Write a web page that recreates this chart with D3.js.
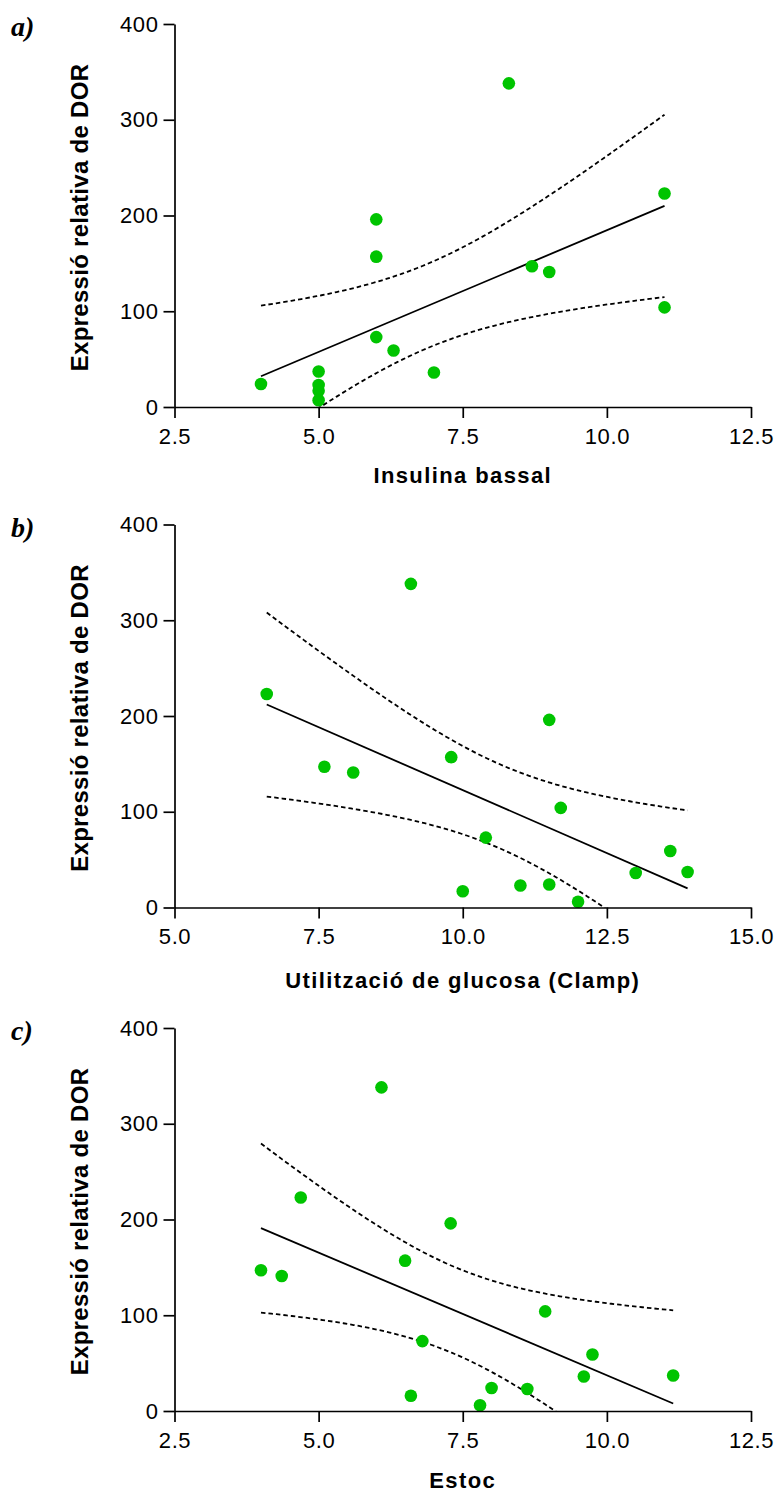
<!DOCTYPE html>
<html>
<head>
<meta charset="utf-8">
<script src="https://cdn.jsdelivr.net/npm/d3@7"></script>
<style>
  body { margin: 0; background: #fff; }
  svg { display: block; }
</style>
</head>
<body>
<svg id="chart" width="777" height="1493"></svg>
<script>
// data (15 samples per panel)
let yTitle = 'Expressió relativa de DOR';
let panelLabels = ['a)', 'b)', 'c)'];
let xTitles = ['Insulina bassal', 'Utilització de glucosa (Clamp)', 'Estoc'];

let yTicks = [0, 100, 200, 300, 400];
let xTicksA = [2.5, 5.0, 7.5, 10.0, 12.5];
let xTicksB = [5.0, 7.5, 10.0, 12.5, 15.0];
let xTicksC = [2.5, 5.0, 7.5, 10.0, 12.5];

let insulinaX = [4.0, 5.0, 5.0, 5.0, 5.0, 6.0, 6.0, 6.0, 6.3, 7.0, 8.3, 8.7, 9.0, 11.0, 11.0];
let insulinaY = [24, 37, 23, 17, 7, 196, 157, 73, 59, 36, 338, 147, 141, 223, 104];

let clampX = [6.6, 7.6, 8.1, 9.1, 9.8, 10.0, 10.4, 11.0, 11.5, 11.5, 11.7, 12.0, 13.0, 13.6, 13.9];
let clampY = [223, 147, 141, 338, 157, 17, 73, 23, 196, 24, 104, 6, 36, 59, 37];

let estocX = [4.0, 4.36, 4.69, 6.09, 6.5, 7.29, 6.6, 6.8, 7.8, 8.0, 8.62, 8.93, 9.6, 9.75, 11.15];
let estocY = [147, 141, 223, 338, 157, 196, 16, 73, 6, 24, 23, 104, 36, 59, 37];

// two-sided 95% t value, df = 13
let tCrit = 2.1604;

let svg = d3.select('#chart');
let left = 174.5;
let plotW = 576.5;
let plotH = 383;
let sansFont = '"Liberation Sans", Arial, sans-serif';

let panels = [
  { label: panelLabels[0], title: xTitles[0], xs: insulinaX, ys: insulinaY, ticks: xTicksA, top: 24, titleY: 482.5 },
  { label: panelLabels[1], title: xTitles[1], xs: clampX, ys: clampY, ticks: xTicksB, top: 524.5, titleY: 988 },
  { label: panelLabels[2], title: xTitles[2], xs: estocX, ys: estocY, ticks: xTicksC, top: 1028, titleY: 1488 }
];

// least squares line + 95% confidence band of the mean
function fit(xs, ys) {
  let n = xs.length;
  let mx = d3.mean(xs), my = d3.mean(ys);
  let sxx = d3.sum(xs, function (x) { return (x - mx) * (x - mx); });
  let sxy = d3.sum(xs.map(function (x, i) { return (x - mx) * (ys[i] - my); }));
  let b = sxy / sxx;
  let a = my - b * mx;
  let sse = d3.sum(xs.map(function (x, i) { let r = ys[i] - a - b * x; return r * r; }));
  let s = Math.sqrt(sse / (n - 2));
  return {
    y: function (x) { return a + b * x; },
    half: function (x) { return tCrit * s * Math.sqrt(1 / n + (x - mx) * (x - mx) / sxx); }
  };
}

panels.forEach(function (p, k) {
  let g = svg.append('g').attr('transform', 'translate(' + left + ',' + p.top + ')');

  let x = d3.scaleLinear().domain(d3.extent(p.ticks)).range([0, plotW]);
  let y = d3.scaleLinear().domain([0, 400]).range([plotH, 0]);

  let clipId = 'clip' + k;
  g.append('clipPath').attr('id', clipId)
    .append('rect')
    .attr('x', 0).attr('y', 0)
    .attr('width', plotW).attr('height', plotH);

  // fit lines
  let f = fit(p.xs, p.ys);
  let ext = d3.extent(p.xs);
  let steps = d3.range(0, 81).map(function (i) { return ext[0] + (ext[1] - ext[0]) * i / 80; });

  let line = d3.line()
    .x(function (d) { return x(d[0]); })
    .y(function (d) { return y(d[1]); });

  let lines = g.append('g').attr('clip-path', 'url(#' + clipId + ')')
    .attr('fill', 'none').attr('stroke', '#000');

  lines.append('path')
    .attr('d', line(ext.map(function (v) { return [v, f.y(v)]; })))
    .attr('stroke-width', 1.8);

  [1, -1].forEach(function (sign) {
    lines.append('path')
      .attr('d', line(steps.map(function (v) { return [v, f.y(v) + sign * f.half(v)]; })))
      .attr('stroke-width', 1.8)
      .attr('stroke-dasharray', '4.5,3');
  });

  // points
  g.append('g')
    .selectAll('circle')
    .data(p.xs.map(function (v, i) { return [v, p.ys[i]]; }))
    .enter().append('circle')
    .attr('cx', function (d) { return x(d[0]); })
    .attr('cy', function (d) { return y(d[1]); })
    .attr('r', 6.3)
    .attr('fill', '#00c400');

  // axes
  let yAxis = g.append('g')
    .call(d3.axisLeft(y).tickValues(yTicks).tickSize(11).tickSizeOuter(0).tickPadding(5));

  let xAxis = g.append('g')
    .attr('transform', 'translate(0,' + plotH + ')')
    .call(d3.axisBottom(x).tickValues(p.ticks).tickFormat(d3.format('.1f'))
      .tickSize(11).tickSizeOuter(0).tickPadding(10));

  [yAxis, xAxis].forEach(function (ax) {
    ax.attr('font-size', 22).attr('font-family', sansFont);
    ax.selectAll('path, line').attr('stroke', '#000').attr('stroke-width', 1.7);
    ax.selectAll('text').attr('fill', '#000').style('letter-spacing', '0.6px');
  });

  // titles
  g.append('text')
    .attr('transform', 'translate(-86.5,' + (plotH / 2 + 2) + ')rotate(-90)')
    .attr('text-anchor', 'middle')
    .attr('font-family', sansFont)
    .attr('font-weight', 'bold')
    .attr('font-size', 24)
    .style('letter-spacing', '0.3px')
    .text(yTitle);

  svg.append('text')
    .attr('x', left + plotW / 2)
    .attr('y', p.titleY)
    .attr('text-anchor', 'middle')
    .attr('font-family', sansFont)
    .attr('font-weight', 'bold')
    .attr('font-size', 22)
    .style('letter-spacing', '1.4px')
    .text(p.title);

  svg.append('text')
    .attr('x', 11)
    .attr('y', p.top + 12)
    .attr('font-family', '"Liberation Serif", "Times New Roman", serif')
    .attr('font-weight', 'bold')
    .attr('font-style', 'italic')
    .attr('font-size', 28)
    .text(p.label);
});
</script>
</body>
</html>
